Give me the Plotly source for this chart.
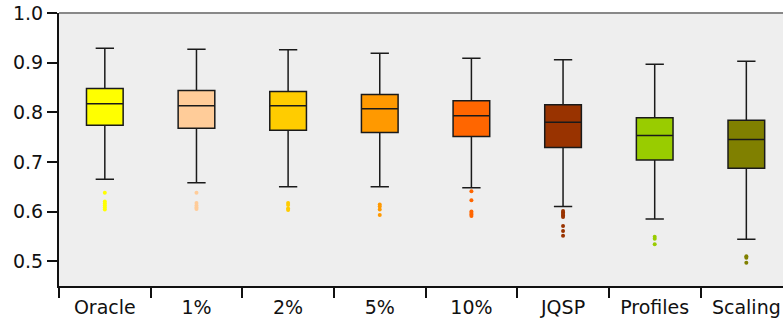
import plotly.graph_objects as go

categories = ["Oracle", "1%", "2%", "5%", "10%", "JQSP", "Profiles", "Scaling"]
colors = ["#FFFF00", "#FFCC99", "#FFCC00", "#FF9900", "#FF6600", "#993300", "#99CC00", "#808000"]

upper_whisker = [0.929, 0.927, 0.926, 0.919, 0.909, 0.906, 0.897, 0.903]
q3_values = [0.848, 0.844, 0.842, 0.836, 0.823, 0.815, 0.789, 0.784]
medians = [0.817, 0.813, 0.813, 0.807, 0.793, 0.780, 0.753, 0.745]
q1_values = [0.774, 0.768, 0.764, 0.759, 0.751, 0.729, 0.704, 0.687]
lower_whisker = [0.665, 0.658, 0.650, 0.650, 0.648, 0.610, 0.585, 0.544]

outliers = [
    [0.638, 0.620, 0.616, 0.612, 0.608, 0.604],
    [0.638, 0.617, 0.612, 0.608, 0.605],
    [0.617, 0.613, 0.606, 0.603],
    [0.614, 0.610, 0.604, 0.593],
    [0.641, 0.623, 0.600, 0.597, 0.594, 0.591],
    [0.601, 0.598, 0.595, 0.592, 0.589, 0.571, 0.561, 0.551],
    [0.549, 0.545, 0.534],
    [0.510, 0.507, 0.497],
]

y_ticks = [0.5, 0.6, 0.7, 0.8, 0.9, 1.0]

fig = go.Figure()
for i, cat in enumerate(categories):
    fig.add_trace(go.Box(
        x=[cat],
        q1=[q1_values[i]], median=[medians[i]], q3=[q3_values[i]],
        lowerfence=[lower_whisker[i]], upperfence=[upper_whisker[i]],
        fillcolor=colors[i],
        line=dict(color="#1a1a1a", width=1.5),
        width=0.4, whiskerwidth=0.5,
        boxpoints=False, showlegend=False, hoverinfo="skip",
    ))
    fig.add_trace(go.Scatter(
        x=[cat] * len(outliers[i]), y=outliers[i], mode="markers",
        marker=dict(color=colors[i], size=4, line=dict(width=0)),
        showlegend=False, hoverinfo="skip",
    ))

fig.update_layout(
    width=783, height=322,
    margin=dict(l=59, r=0, t=13, b=36),
    paper_bgcolor="white", plot_bgcolor="#EEEEEE",
    boxmode="overlay",
    font=dict(family="DejaVu Sans", size=19, color="#111"),
    xaxis=dict(
        type="category", categoryorder="array", categoryarray=categories,
        range=[-0.5, 7.4], tickson="boundaries",
        ticks="outside", ticklen=10, tickwidth=1.5, tickcolor="#111",
        ticklabelstandoff=3,
        showline=True, linecolor="#111", linewidth=2,
        showgrid=False, zeroline=False,
    ),
    yaxis=dict(
        range=[0.45, 1.0], tickvals=y_ticks, tickformat=".1f",
        ticks="outside", ticklen=10, tickwidth=1.5, tickcolor="#111",
        showline=True, linecolor="#111", linewidth=2,
        showgrid=False, zeroline=False,
    ),
    shapes=[dict(type="line", xref="paper", yref="paper", x0=0, x1=1, y0=1, y1=1,
                 line=dict(color="#888888", width=2))],
)

fig.write_html("out.html")
